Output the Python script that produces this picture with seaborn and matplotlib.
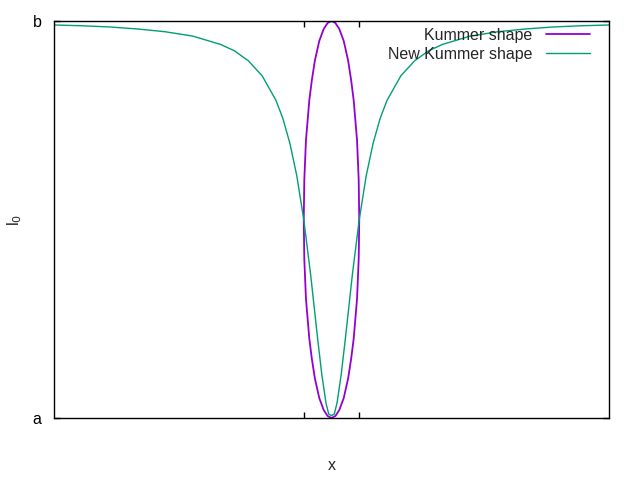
import matplotlib
matplotlib.use("Agg")
import matplotlib.pyplot as plt
import seaborn as sns
import pandas as pd

# Kummer shape: closed loop (x, y) in data units
kummer_x = [0, 0.14, 0.28, 0.44, 0.60, 0.71, 0.80, 0.92, 0.98, 1.00, 0.98, 0.92, 0.80, 0.71,
            0.60, 0.44, 0.28, 0.14, 0, -0.14, -0.28, -0.44, -0.60, -0.71, -0.80, -0.92, -0.98,
            -1.00, -0.98, -0.92, -0.80, -0.71, -0.60, -0.44, -0.28, -0.14, 0]
kummer_y = [0, 0.005, 0.02, 0.05, 0.10, 0.15, 0.20, 0.30, 0.40, 0.50, 0.60, 0.70, 0.80, 0.85,
            0.90, 0.95, 0.98, 0.995, 1.0, 0.995, 0.98, 0.95, 0.90, 0.85, 0.80, 0.70, 0.60,
            0.50, 0.40, 0.30, 0.20, 0.15, 0.10, 0.05, 0.02, 0.005, 0]

# New Kummer shape
new_x = [-10, -9, -8, -7, -6, -5, -4, -3.5, -3, -2.5, -2, -1.75, -1.5, -1.25, -1, -0.75,
         -0.5, -0.35, -0.2, -0.1, 0, 0.1, 0.2, 0.35, 0.5, 0.75, 1, 1.25, 1.5, 1.75, 2, 2.5,
         3, 3.5, 4, 5, 6, 7, 8, 9, 10]
new_y = [0.990, 0.988, 0.985, 0.980, 0.973, 0.962, 0.941, 0.925, 0.900, 0.862, 0.800, 0.754,
         0.692, 0.610, 0.500, 0.360, 0.200, 0.110, 0.038, 0.010, 0.006, 0.010, 0.038, 0.110,
         0.200, 0.360, 0.500, 0.610, 0.692, 0.754, 0.800, 0.862, 0.900, 0.925, 0.941, 0.962,
         0.973, 0.980, 0.985, 0.988, 0.990]

x_ticks = [-1, 1]
x_tick_labels = ["", ""]
y_ticks = [0, 1]
y_tick_labels = ["a", "b"]

sns.set_theme(style="ticks")
plt.rcParams["font.family"] = ["Liberation Sans", "DejaVu Sans"]

fig = plt.figure(figsize=(6.4, 4.8), dpi=100)
ax = fig.add_axes([54 / 640, (480 - 418) / 480, (609 - 54) / 640, (418 - 21) / 480])

df_k = pd.DataFrame({"x": kummer_x, "y": kummer_y})
df_n = pd.DataFrame({"x": new_x, "y": new_y})

sns.lineplot(data=df_k, x="x", y="y", sort=False, estimator=None, color="#9400D3",
             linewidth=1.3, label="Kummer shape", ax=ax)
sns.lineplot(data=df_n, x="x", y="y", sort=False, estimator=None, color="#009E73",
             linewidth=1.0, label="New Kummer shape", ax=ax)

ax.set_xlim(-10, 10)
ax.set_ylim(0, 1)
ax.set_xticks(x_ticks)
ax.set_xticklabels(x_tick_labels)
ax.set_yticks(y_ticks)
ax.set_yticklabels(y_tick_labels)
ax.tick_params(direction="in", length=4.5, width=1, top=True, right=True,
               labelsize=11.5, pad=9, colors="black")

for s in ax.spines.values():
    s.set_visible(True)
    s.set_linewidth(1.0)
    s.set_color("black")

ax.set_xlabel("x", fontsize=11.5)
ax.set_ylabel(r"l$_0$", fontsize=11.5)
ax.xaxis.set_label_coords(0.5, -(465 - 418) / 397)
ax.yaxis.set_label_coords(-(54 - 15) / 555, 0.5)
ax.xaxis.label.set_va("center")
ax.yaxis.label.set_va("center")

leg = ax.legend(loc="upper right", bbox_to_anchor=(1 - 19 / 555, 1 - 7 / 397),
                frameon=False, markerfirst=False, fontsize=11.5, handlelength=2.75,
                handletextpad=0.85, borderaxespad=0, borderpad=0, labelspacing=0.22)

fig.savefig("out.png", dpi=100)
